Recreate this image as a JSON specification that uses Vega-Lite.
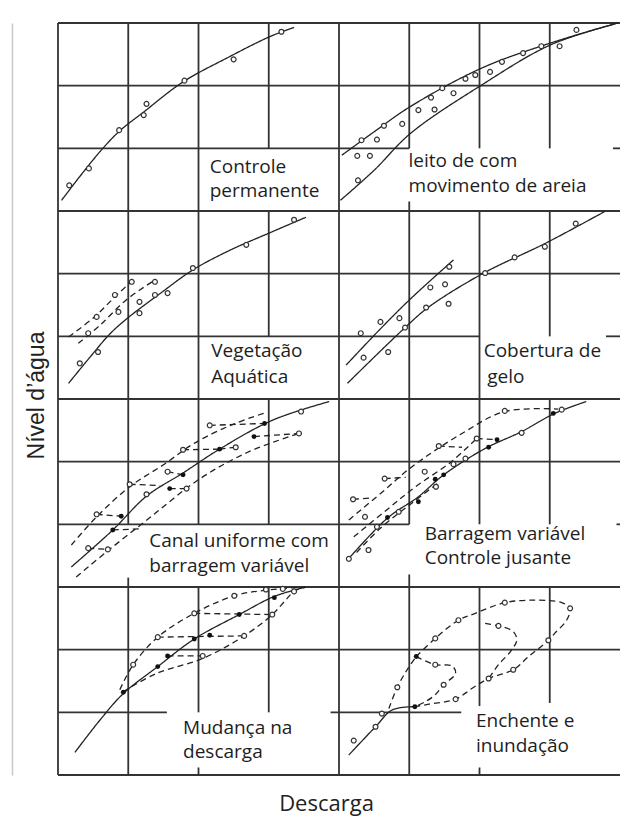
{
  "$schema": "https://vega.github.io/schema/vega-lite/v6.json",
  "width": 562,
  "height": 752,
  "autosize": {"type": "none"},
  "padding": {"left": 58, "top": 23, "right": 0, "bottom": 48},
  "background": "white",
  "config": {"view": {"stroke": null}},
  "datasets": {
    "grid": [
      {"x": 0, "x2": 0, "y": 0, "y2": 12},
      {"x": 1, "x2": 1, "y": 0, "y2": 3.15},
      {"x": 1, "x2": 1, "y": 4, "y2": 12},
      {"x": 2, "x2": 2, "y": 0, "y2": 0.12},
      {"x": 2, "x2": 2, "y": 1, "y2": 3},
      {"x": 2, "x2": 2, "y": 4, "y2": 12},
      {"x": 3, "x2": 3, "y": 1, "y2": 3},
      {"x": 3, "x2": 3, "y": 4, "y2": 6},
      {"x": 3, "x2": 3, "y": 7, "y2": 9},
      {"x": 3, "x2": 3, "y": 10, "y2": 12},
      {"x": 4, "x2": 4, "y": 0, "y2": 12},
      {"x": 5, "x2": 5, "y": 0, "y2": 3.2},
      {"x": 5, "x2": 5, "y": 4, "y2": 9.15},
      {"x": 5, "x2": 5, "y": 10, "y2": 12},
      {"x": 6, "x2": 6, "y": 0, "y2": 0.12},
      {"x": 6, "x2": 6, "y": 1.1, "y2": 3},
      {"x": 6, "x2": 6, "y": 4, "y2": 9},
      {"x": 6, "x2": 6, "y": 10, "y2": 12},
      {"x": 7, "x2": 7, "y": 1.15, "y2": 3},
      {"x": 7, "x2": 7, "y": 4, "y2": 6},
      {"x": 7, "x2": 7, "y": 7, "y2": 9},
      {"x": 7, "x2": 7, "y": 10, "y2": 12},
      {"x": 0, "x2": 8, "y": 12, "y2": 12},
      {"x": 0, "x2": 8, "y": 11, "y2": 11},
      {"x": 0, "x2": 5, "y": 10, "y2": 10},
      {"x": 7.9, "x2": 8, "y": 10, "y2": 10},
      {"x": 0, "x2": 8, "y": 9, "y2": 9},
      {"x": 0, "x2": 8, "y": 8, "y2": 8},
      {"x": 0, "x2": 6, "y": 7, "y2": 7},
      {"x": 7.8, "x2": 8, "y": 7, "y2": 7},
      {"x": 0, "x2": 8, "y": 6, "y2": 6},
      {"x": 0, "x2": 8, "y": 5, "y2": 5},
      {"x": 0, "x2": 5, "y": 4, "y2": 4},
      {"x": 7.95, "x2": 8, "y": 4, "y2": 4},
      {"x": 0, "x2": 8, "y": 3, "y2": 3},
      {"x": 0, "x2": 8, "y": 2, "y2": 2},
      {"x": 0, "x2": 1.55, "y": 1, "y2": 1},
      {"x": 3.88, "x2": 5.74, "y": 1, "y2": 1},
      {"x": 0, "x2": 8, "y": 0, "y2": 0}
    ],
    "curves": [
      {"id": "TL", "s": "solid", "o": 1, "x": 0.05, "y": 9.17},
      {"id": "TL", "s": "solid", "o": 2, "x": 0.31, "y": 9.55},
      {"id": "TL", "s": "solid", "o": 3, "x": 0.6, "y": 9.95},
      {"id": "TL", "s": "solid", "o": 4, "x": 0.87, "y": 10.27},
      {"id": "TL", "s": "solid", "o": 5, "x": 1.22, "y": 10.58},
      {"id": "TL", "s": "solid", "o": 6, "x": 1.78, "y": 11.06},
      {"id": "TL", "s": "solid", "o": 7, "x": 2.42, "y": 11.45},
      {"id": "TL", "s": "solid", "o": 8, "x": 3.01, "y": 11.78},
      {"id": "TL", "s": "solid", "o": 9, "x": 3.36, "y": 11.93},
      {"id": "TRu", "s": "solid", "o": 1, "x": 4.04, "y": 9.89},
      {"id": "TRu", "s": "solid", "o": 2, "x": 4.52, "y": 10.28},
      {"id": "TRu", "s": "solid", "o": 3, "x": 5.02, "y": 10.67},
      {"id": "TRu", "s": "solid", "o": 4, "x": 6.03, "y": 11.28},
      {"id": "TRu", "s": "solid", "o": 5, "x": 7.01, "y": 11.68},
      {"id": "TRu", "s": "solid", "o": 6, "x": 7.97, "y": 12.0},
      {"id": "TRl", "s": "solid", "o": 1, "x": 4.02, "y": 9.17},
      {"id": "TRl", "s": "solid", "o": 2, "x": 4.5, "y": 9.65},
      {"id": "TRl", "s": "solid", "o": 3, "x": 5.02, "y": 10.24},
      {"id": "TRl", "s": "solid", "o": 4, "x": 6.03, "y": 11.01},
      {"id": "TRl", "s": "solid", "o": 5, "x": 7.01, "y": 11.65},
      {"id": "TRl", "s": "solid", "o": 6, "x": 7.97, "y": 12.0},
      {"id": "ML", "s": "solid", "o": 1, "x": 0.15, "y": 6.25},
      {"id": "ML", "s": "solid", "o": 2, "x": 0.45, "y": 6.66},
      {"id": "ML", "s": "solid", "o": 3, "x": 0.74, "y": 7.04},
      {"id": "ML", "s": "solid", "o": 4, "x": 1.0, "y": 7.3},
      {"id": "ML", "s": "solid", "o": 5, "x": 1.45, "y": 7.68},
      {"id": "ML", "s": "solid", "o": 6, "x": 1.92, "y": 8.06},
      {"id": "ML", "s": "solid", "o": 7, "x": 2.44, "y": 8.37},
      {"id": "ML", "s": "solid", "o": 8, "x": 3.01, "y": 8.65},
      {"id": "ML", "s": "solid", "o": 9, "x": 3.53, "y": 8.9},
      {"id": "MLd1", "s": "dashed", "o": 1, "x": 0.15, "y": 6.99},
      {"id": "MLd1", "s": "dashed", "o": 2, "x": 0.52, "y": 7.31},
      {"id": "MLd1", "s": "dashed", "o": 3, "x": 0.81, "y": 7.63},
      {"id": "MLd1", "s": "dashed", "o": 4, "x": 1.05, "y": 7.88},
      {"id": "MLd2", "s": "dashed", "o": 1, "x": 0.29, "y": 6.89},
      {"id": "MLd2", "s": "dashed", "o": 2, "x": 0.6, "y": 7.18},
      {"id": "MLd2", "s": "dashed", "o": 3, "x": 0.97, "y": 7.58},
      {"id": "MLd2", "s": "dashed", "o": 4, "x": 1.38, "y": 7.9},
      {"id": "MRl", "s": "solid", "o": 1, "x": 4.12, "y": 6.25},
      {"id": "MRl", "s": "solid", "o": 2, "x": 4.95, "y": 7.15},
      {"id": "MRl", "s": "solid", "o": 3, "x": 5.28, "y": 7.47},
      {"id": "MRl", "s": "solid", "o": 4, "x": 6.06, "y": 8.01},
      {"id": "MRl", "s": "solid", "o": 5, "x": 6.93, "y": 8.48},
      {"id": "MRl", "s": "solid", "o": 6, "x": 7.78, "y": 8.99},
      {"id": "MRu", "s": "solid", "o": 1, "x": 4.1, "y": 6.54},
      {"id": "MRu", "s": "solid", "o": 2, "x": 4.59, "y": 7.12},
      {"id": "MRu", "s": "solid", "o": 3, "x": 5.02, "y": 7.6},
      {"id": "MRu", "s": "solid", "o": 4, "x": 5.63, "y": 8.22},
      {"id": "MBL", "s": "solid", "o": 1, "x": 0.19, "y": 3.32},
      {"id": "MBL", "s": "solid", "o": 2, "x": 0.78, "y": 3.91},
      {"id": "MBL", "s": "solid", "o": 3, "x": 1.26, "y": 4.45},
      {"id": "MBL", "s": "solid", "o": 4, "x": 1.78, "y": 4.82},
      {"id": "MBL", "s": "solid", "o": 5, "x": 2.3, "y": 5.2},
      {"id": "MBL", "s": "solid", "o": 6, "x": 3.05, "y": 5.66},
      {"id": "MBL", "s": "solid", "o": 7, "x": 3.86, "y": 5.96},
      {"id": "MBLu", "s": "dashed", "o": 1, "x": 0.19, "y": 3.67},
      {"id": "MBLu", "s": "dashed", "o": 2, "x": 0.55, "y": 4.12},
      {"id": "MBLu", "s": "dashed", "o": 3, "x": 1.02, "y": 4.6},
      {"id": "MBLu", "s": "dashed", "o": 4, "x": 1.5, "y": 4.95},
      {"id": "MBLu", "s": "dashed", "o": 5, "x": 1.95, "y": 5.3},
      {"id": "MBLu", "s": "dashed", "o": 6, "x": 2.5, "y": 5.6},
      {"id": "MBLu", "s": "dashed", "o": 7, "x": 2.95, "y": 5.78},
      {"id": "MBLl", "s": "dashed", "o": 1, "x": 0.26, "y": 3.16},
      {"id": "MBLl", "s": "dashed", "o": 2, "x": 0.69, "y": 3.56},
      {"id": "MBLl", "s": "dashed", "o": 3, "x": 1.3, "y": 4.1},
      {"id": "MBLl", "s": "dashed", "o": 4, "x": 2.01, "y": 4.72},
      {"id": "MBLl", "s": "dashed", "o": 5, "x": 2.7, "y": 5.15},
      {"id": "MBLl", "s": "dashed", "o": 6, "x": 3.43, "y": 5.45},
      {"id": "Mc1", "s": "dashed", "o": 1, "x": 0.55, "y": 4.16},
      {"id": "Mc1", "s": "dashed", "o": 2, "x": 0.9, "y": 4.13},
      {"id": "Mc2", "s": "dashed", "o": 1, "x": 0.43, "y": 3.62},
      {"id": "Mc2", "s": "dashed", "o": 2, "x": 0.71, "y": 3.6},
      {"id": "Mc3", "s": "dashed", "o": 1, "x": 1.02, "y": 4.64},
      {"id": "Mc3", "s": "dashed", "o": 2, "x": 1.45, "y": 4.62},
      {"id": "Mc4", "s": "dashed", "o": 1, "x": 1.56, "y": 4.84},
      {"id": "Mc4", "s": "dashed", "o": 2, "x": 1.78, "y": 4.79},
      {"id": "Mc5", "s": "dashed", "o": 1, "x": 1.59, "y": 4.57},
      {"id": "Mc5", "s": "dashed", "o": 2, "x": 1.83, "y": 4.57},
      {"id": "Mc6", "s": "dashed", "o": 1, "x": 1.78, "y": 5.19},
      {"id": "Mc6", "s": "dashed", "o": 2, "x": 2.3, "y": 5.2},
      {"id": "Mc7", "s": "dashed", "o": 1, "x": 2.16, "y": 5.58},
      {"id": "Mc7", "s": "dashed", "o": 2, "x": 2.94, "y": 5.61},
      {"id": "Mc8", "s": "dashed", "o": 1, "x": 2.3, "y": 5.2},
      {"id": "Mc8", "s": "dashed", "o": 2, "x": 2.53, "y": 5.23},
      {"id": "Mc9", "s": "dashed", "o": 1, "x": 2.79, "y": 5.4},
      {"id": "Mc9", "s": "dashed", "o": 2, "x": 3.43, "y": 5.45},
      {"id": "Mc10", "s": "dashed", "o": 1, "x": 0.78, "y": 3.91},
      {"id": "Mc10", "s": "dashed", "o": 2, "x": 1.2, "y": 3.93},
      {"id": "MBR", "s": "solid", "o": 1, "x": 4.12, "y": 3.43},
      {"id": "MBR", "s": "solid", "o": 2, "x": 4.69, "y": 4.1},
      {"id": "MBR", "s": "solid", "o": 3, "x": 5.13, "y": 4.44},
      {"id": "MBR", "s": "solid", "o": 4, "x": 5.49, "y": 4.79},
      {"id": "MBR", "s": "solid", "o": 5, "x": 6.08, "y": 5.21},
      {"id": "MBR", "s": "solid", "o": 6, "x": 6.6, "y": 5.48},
      {"id": "MBR", "s": "solid", "o": 7, "x": 7.07, "y": 5.77},
      {"id": "MBR", "s": "solid", "o": 8, "x": 7.52, "y": 5.96},
      {"id": "MBRu", "s": "dashed", "o": 1, "x": 4.14, "y": 4.07},
      {"id": "MBRu", "s": "dashed", "o": 2, "x": 4.6, "y": 4.5},
      {"id": "MBRu", "s": "dashed", "o": 3, "x": 5.04, "y": 4.92},
      {"id": "MBRu", "s": "dashed", "o": 4, "x": 5.75, "y": 5.45},
      {"id": "MBRu", "s": "dashed", "o": 5, "x": 6.36, "y": 5.8},
      {"id": "MBRu", "s": "dashed", "o": 6, "x": 7.12, "y": 5.84},
      {"id": "MBRm", "s": "dashed", "o": 1, "x": 4.21, "y": 3.8},
      {"id": "MBRm", "s": "dashed", "o": 2, "x": 4.7, "y": 4.25},
      {"id": "MBRm", "s": "dashed", "o": 3, "x": 5.09, "y": 4.6},
      {"id": "MBRm", "s": "dashed", "o": 4, "x": 5.6, "y": 5.0},
      {"id": "MBRm", "s": "dashed", "o": 5, "x": 5.96, "y": 5.37},
      {"id": "MBRl", "s": "dashed", "o": 1, "x": 4.25, "y": 3.55},
      {"id": "MBRl", "s": "dashed", "o": 2, "x": 4.6, "y": 3.95},
      {"id": "MBRl", "s": "dashed", "o": 3, "x": 5.05, "y": 4.35},
      {"id": "MBRl", "s": "dashed", "o": 4, "x": 5.4, "y": 4.65},
      {"id": "Nc1", "s": "dashed", "o": 1, "x": 4.65, "y": 4.73},
      {"id": "Nc1", "s": "dashed", "o": 2, "x": 4.95, "y": 4.75},
      {"id": "Nc2", "s": "dashed", "o": 1, "x": 5.42, "y": 5.25},
      {"id": "Nc2", "s": "dashed", "o": 2, "x": 5.75, "y": 5.23},
      {"id": "Nc3", "s": "dashed", "o": 1, "x": 5.96, "y": 5.37},
      {"id": "Nc3", "s": "dashed", "o": 2, "x": 6.25, "y": 5.35},
      {"id": "Nc4", "s": "dashed", "o": 1, "x": 4.2, "y": 4.4},
      {"id": "Nc4", "s": "dashed", "o": 2, "x": 4.45, "y": 4.42},
      {"id": "BL", "s": "solid", "o": 1, "x": 0.24, "y": 0.36},
      {"id": "BL", "s": "solid", "o": 2, "x": 0.6, "y": 0.88},
      {"id": "BL", "s": "solid", "o": 3, "x": 0.93, "y": 1.3},
      {"id": "BL", "s": "solid", "o": 4, "x": 1.42, "y": 1.73},
      {"id": "BL", "s": "solid", "o": 5, "x": 1.94, "y": 2.17},
      {"id": "BL", "s": "solid", "o": 6, "x": 2.58, "y": 2.56},
      {"id": "BL", "s": "solid", "o": 7, "x": 3.08, "y": 2.85},
      {"id": "BL", "s": "solid", "o": 8, "x": 3.53, "y": 3.0},
      {"id": "BLu", "s": "dashed", "o": 1, "x": 0.88, "y": 1.36},
      {"id": "BLu", "s": "dashed", "o": 2, "x": 1.07, "y": 1.76},
      {"id": "BLu", "s": "dashed", "o": 3, "x": 1.42, "y": 2.2},
      {"id": "BLu", "s": "dashed", "o": 4, "x": 1.94, "y": 2.58},
      {"id": "BLu", "s": "dashed", "o": 5, "x": 2.51, "y": 2.86},
      {"id": "BLu", "s": "dashed", "o": 6, "x": 2.96, "y": 2.95},
      {"id": "BLu", "s": "dashed", "o": 7, "x": 3.53, "y": 3.0},
      {"id": "BLl", "s": "dashed", "o": 1, "x": 0.93, "y": 1.33},
      {"id": "BLl", "s": "dashed", "o": 2, "x": 1.4, "y": 1.62},
      {"id": "BLl", "s": "dashed", "o": 3, "x": 2.06, "y": 1.86},
      {"id": "BLl", "s": "dashed", "o": 4, "x": 2.65, "y": 2.22},
      {"id": "BLl", "s": "dashed", "o": 5, "x": 3.05, "y": 2.56},
      {"id": "BLl", "s": "dashed", "o": 6, "x": 3.24, "y": 2.79},
      {"id": "BLl", "s": "dashed", "o": 7, "x": 3.36, "y": 2.93},
      {"id": "BLl", "s": "dashed", "o": 8, "x": 3.53, "y": 3.0},
      {"id": "Bc1", "s": "dashed", "o": 1, "x": 1.42, "y": 2.2},
      {"id": "Bc1", "s": "dashed", "o": 2, "x": 2.65, "y": 2.22},
      {"id": "Bc2", "s": "dashed", "o": 1, "x": 1.94, "y": 2.58},
      {"id": "Bc2", "s": "dashed", "o": 2, "x": 3.05, "y": 2.56},
      {"id": "Bc3", "s": "dashed", "o": 1, "x": 1.56, "y": 1.9},
      {"id": "Bc3", "s": "dashed", "o": 2, "x": 2.06, "y": 1.9},
      {"id": "BR", "s": "solid", "o": 1, "x": 4.14, "y": 0.32},
      {"id": "BR", "s": "solid", "o": 2, "x": 4.52, "y": 0.77},
      {"id": "BR", "s": "solid", "o": 3, "x": 4.76, "y": 1.04},
      {"id": "BR", "s": "solid", "o": 4, "x": 5.08, "y": 1.09},
      {"id": "BRb", "s": "dashed", "o": 1, "x": 5.1, "y": 1.89},
      {"id": "BRb", "s": "dashed", "o": 2, "x": 5.37, "y": 2.18},
      {"id": "BRb", "s": "dashed", "o": 3, "x": 5.7, "y": 2.47},
      {"id": "BRb", "s": "dashed", "o": 4, "x": 5.94, "y": 2.58},
      {"id": "BRb", "s": "dashed", "o": 5, "x": 6.36, "y": 2.75},
      {"id": "BRb", "s": "dashed", "o": 6, "x": 6.79, "y": 2.79},
      {"id": "BRb", "s": "dashed", "o": 7, "x": 7.17, "y": 2.75},
      {"id": "BRb", "s": "dashed", "o": 8, "x": 7.29, "y": 2.66},
      {"id": "BRb", "s": "dashed", "o": 9, "x": 7.24, "y": 2.47},
      {"id": "BRb", "s": "dashed", "o": 10, "x": 7.07, "y": 2.26},
      {"id": "BRb", "s": "dashed", "o": 11, "x": 6.98, "y": 2.15},
      {"id": "BRb", "s": "dashed", "o": 12, "x": 6.7, "y": 1.89},
      {"id": "BRb", "s": "dashed", "o": 13, "x": 6.48, "y": 1.68},
      {"id": "BRb", "s": "dashed", "o": 14, "x": 6.13, "y": 1.54},
      {"id": "BRb", "s": "dashed", "o": 15, "x": 5.89, "y": 1.38},
      {"id": "BRb", "s": "dashed", "o": 16, "x": 5.66, "y": 1.21},
      {"id": "BRb", "s": "dashed", "o": 17, "x": 5.28, "y": 1.13},
      {"id": "BRb", "s": "dashed", "o": 18, "x": 5.08, "y": 1.09},
      {"id": "BRm", "s": "dashed", "o": 1, "x": 6.08, "y": 2.42},
      {"id": "BRm", "s": "dashed", "o": 2, "x": 6.27, "y": 2.38},
      {"id": "BRm", "s": "dashed", "o": 3, "x": 6.48, "y": 2.29},
      {"id": "BRm", "s": "dashed", "o": 4, "x": 6.53, "y": 2.15},
      {"id": "BRm", "s": "dashed", "o": 5, "x": 6.44, "y": 1.97},
      {"id": "BRm", "s": "dashed", "o": 6, "x": 6.27, "y": 1.76},
      {"id": "BRm", "s": "dashed", "o": 7, "x": 6.13, "y": 1.54},
      {"id": "BRs", "s": "dashed", "o": 1, "x": 5.1, "y": 1.89},
      {"id": "BRs", "s": "dashed", "o": 2, "x": 5.37, "y": 1.76},
      {"id": "BRs", "s": "dashed", "o": 3, "x": 5.61, "y": 1.74},
      {"id": "BRs", "s": "dashed", "o": 4, "x": 5.66, "y": 1.62},
      {"id": "BRs", "s": "dashed", "o": 5, "x": 5.49, "y": 1.44},
      {"id": "BRs", "s": "dashed", "o": 6, "x": 5.37, "y": 1.28},
      {"id": "BRs", "s": "dashed", "o": 7, "x": 5.23, "y": 1.17},
      {"id": "BRs", "s": "dashed", "o": 8, "x": 5.08, "y": 1.09},
      {"id": "BRr", "s": "dashed", "o": 1, "x": 4.71, "y": 1.06},
      {"id": "BRr", "s": "dashed", "o": 2, "x": 4.83, "y": 1.4},
      {"id": "BRr", "s": "dashed", "o": 3, "x": 4.97, "y": 1.68},
      {"id": "BRr", "s": "dashed", "o": 4, "x": 5.1, "y": 1.89}
    ],
    "open": [
      {"x": 0.16, "y": 9.41}, {"x": 0.44, "y": 9.68}, {"x": 0.87, "y": 10.29}, {"x": 1.22, "y": 10.53}, {"x": 1.26, "y": 10.71}, {"x": 1.8, "y": 11.08}, {"x": 2.5, "y": 11.42}, {"x": 3.18, "y": 11.86},
      {"x": 4.27, "y": 9.49}, {"x": 4.26, "y": 9.88}, {"x": 4.44, "y": 9.88}, {"x": 4.32, "y": 10.13}, {"x": 4.54, "y": 10.14}, {"x": 4.64, "y": 10.36}, {"x": 4.9, "y": 10.39}, {"x": 5.13, "y": 10.61}, {"x": 5.31, "y": 10.81}, {"x": 5.36, "y": 10.62}, {"x": 5.47, "y": 10.96}, {"x": 5.63, "y": 10.88}, {"x": 5.8, "y": 11.11}, {"x": 5.94, "y": 11.17}, {"x": 6.15, "y": 11.22}, {"x": 6.32, "y": 11.38}, {"x": 6.62, "y": 11.52}, {"x": 6.88, "y": 11.63}, {"x": 7.14, "y": 11.63}, {"x": 7.38, "y": 11.89},
      {"x": 0.31, "y": 6.57}, {"x": 0.57, "y": 6.75}, {"x": 0.43, "y": 7.05}, {"x": 0.55, "y": 7.31}, {"x": 0.81, "y": 7.66}, {"x": 0.86, "y": 7.39}, {"x": 1.05, "y": 7.87}, {"x": 1.16, "y": 7.55}, {"x": 1.16, "y": 7.37}, {"x": 1.38, "y": 7.66}, {"x": 1.38, "y": 7.87}, {"x": 1.56, "y": 7.69}, {"x": 1.92, "y": 8.09}, {"x": 2.68, "y": 8.46}, {"x": 3.36, "y": 8.86},
      {"x": 4.31, "y": 7.05}, {"x": 4.35, "y": 6.66}, {"x": 4.7, "y": 6.75}, {"x": 4.59, "y": 7.23}, {"x": 4.86, "y": 7.29}, {"x": 4.94, "y": 7.14}, {"x": 5.24, "y": 7.46}, {"x": 5.3, "y": 7.78}, {"x": 5.51, "y": 7.83}, {"x": 5.56, "y": 7.52}, {"x": 5.57, "y": 8.11}, {"x": 6.08, "y": 8.01}, {"x": 6.5, "y": 8.26}, {"x": 6.93, "y": 8.43}, {"x": 7.37, "y": 8.8},
      {"x": 0.55, "y": 4.16}, {"x": 0.43, "y": 3.62}, {"x": 0.71, "y": 3.6}, {"x": 1.02, "y": 4.64}, {"x": 1.26, "y": 4.48}, {"x": 1.56, "y": 4.84}, {"x": 1.78, "y": 5.19}, {"x": 1.83, "y": 4.57}, {"x": 2.16, "y": 5.58}, {"x": 2.53, "y": 5.23}, {"x": 3.43, "y": 5.45}, {"x": 3.46, "y": 5.8},
      {"x": 4.2, "y": 4.4}, {"x": 4.65, "y": 4.73}, {"x": 4.37, "y": 4.12}, {"x": 5.42, "y": 5.25}, {"x": 5.96, "y": 5.37}, {"x": 6.36, "y": 5.81}, {"x": 7.17, "y": 5.83}, {"x": 6.6, "y": 5.46}, {"x": 5.8, "y": 5.05}, {"x": 5.63, "y": 4.96}, {"x": 5.22, "y": 4.84}, {"x": 5.38, "y": 4.6}, {"x": 4.85, "y": 4.2}, {"x": 4.54, "y": 3.96}, {"x": 4.42, "y": 3.59}, {"x": 4.14, "y": 3.45},
      {"x": 1.07, "y": 1.76}, {"x": 1.42, "y": 2.2}, {"x": 1.94, "y": 2.58}, {"x": 2.51, "y": 2.86}, {"x": 2.96, "y": 2.96}, {"x": 2.06, "y": 1.9}, {"x": 2.65, "y": 2.22}, {"x": 3.05, "y": 2.56}, {"x": 3.36, "y": 2.93}, {"x": 3.2, "y": 2.97},
      {"x": 4.21, "y": 0.55}, {"x": 4.52, "y": 0.77}, {"x": 4.61, "y": 0.98}, {"x": 4.83, "y": 1.4}, {"x": 5.37, "y": 2.18}, {"x": 5.7, "y": 2.47}, {"x": 6.36, "y": 2.75}, {"x": 7.29, "y": 2.66}, {"x": 6.98, "y": 2.15}, {"x": 6.48, "y": 1.68}, {"x": 6.13, "y": 1.54}, {"x": 5.66, "y": 1.21}, {"x": 6.27, "y": 2.38}, {"x": 5.37, "y": 1.76}, {"x": 5.49, "y": 1.44}
    ],
    "filled": [
      {"x": 0.78, "y": 3.91}, {"x": 0.9, "y": 4.13}, {"x": 1.59, "y": 4.57}, {"x": 1.78, "y": 4.79}, {"x": 2.3, "y": 5.2}, {"x": 2.79, "y": 5.4}, {"x": 2.94, "y": 5.61},
      {"x": 4.69, "y": 4.11}, {"x": 5.13, "y": 4.36}, {"x": 5.37, "y": 4.72}, {"x": 5.49, "y": 4.79}, {"x": 6.13, "y": 5.23}, {"x": 6.25, "y": 5.35}, {"x": 7.05, "y": 5.77},
      {"x": 0.93, "y": 1.32}, {"x": 1.42, "y": 1.73}, {"x": 1.56, "y": 1.9}, {"x": 1.94, "y": 2.17}, {"x": 2.16, "y": 2.23}, {"x": 2.58, "y": 2.56}, {"x": 3.08, "y": 2.83},
      {"x": 5.08, "y": 1.09}, {"x": 5.1, "y": 1.89}
    ],
    "labels": [
      {"t": "Controle", "x": 2.16, "y": 9.61},
      {"t": "permanente", "x": 2.16, "y": 9.22},
      {"t": "leito de com", "x": 4.99, "y": 9.71},
      {"t": "movimento de areia", "x": 4.99, "y": 9.3},
      {"t": "Vegetação", "x": 2.18, "y": 6.67},
      {"t": "Aquática", "x": 2.18, "y": 6.25},
      {"t": "Cobertura de", "x": 6.06, "y": 6.67},
      {"t": "gelo", "x": 6.11, "y": 6.26},
      {"t": "Canal uniforme com", "x": 1.3, "y": 3.64},
      {"t": "barragem variável", "x": 1.3, "y": 3.24},
      {"t": "Barragem variável", "x": 5.22, "y": 3.75},
      {"t": "Controle jusante", "x": 5.22, "y": 3.37},
      {"t": "Mudança na", "x": 1.78, "y": 0.65},
      {"t": "descarga", "x": 1.78, "y": 0.27},
      {"t": "Enchente e", "x": 5.95, "y": 0.77},
      {"t": "inundação", "x": 5.95, "y": 0.37}
    ]
  },
  "layer": [
    {
      "data": {"name": "grid"},
      "mark": {"type": "rule", "color": "#333333", "strokeWidth": 1.8},
      "encoding": {
        "x": {"field": "x", "type": "quantitative", "scale": {"domain": [0, 8], "nice": false, "zero": false},
              "axis": {"orient": "bottom", "domain": false, "ticks": false, "labels": false, "grid": false,
                       "title": "Descarga", "titleFont": "Open Sans", "titleFontSize": 22, "titleFontWeight": "normal",
                       "titleColor": "#222222", "titleX": 268, "titleY": 35, "titleBaseline": "alphabetic", "titleAlign": "center"}},
        "x2": {"field": "x2"},
        "y": {"field": "y", "type": "quantitative", "scale": {"domain": [0, 12], "nice": false, "zero": false},
              "axis": {"orient": "left", "offset": 46, "domain": true, "domainColor": "#c8c8c8", "domainWidth": 1.5,
                       "ticks": false, "labels": false, "grid": false,
                       "title": "Nível d’água", "titleFont": "Liberation Sans", "titleFontSize": 23, "titleFontWeight": "normal",
                       "titleColor": "#222222", "titleX": 31, "titleY": 372, "titleBaseline": "alphabetic", "titleAlign": "center", "titleAngle": 270}},
        "y2": {"field": "y2"}
      }
    },
    {
      "data": {"name": "curves"},
      "mark": {"type": "line", "color": "#222222", "strokeWidth": 1.3, "interpolate": "catmull-rom"},
      "encoding": {
        "x": {"field": "x", "type": "quantitative"},
        "y": {"field": "y", "type": "quantitative"},
        "detail": {"field": "id"},
        "order": {"field": "o", "type": "quantitative"},
        "strokeDash": {"field": "s", "type": "nominal", "scale": {"domain": ["solid", "dashed"], "range": [[1, 0], [6, 4]]}, "legend": null}
      }
    },
    {
      "data": {"name": "open"},
      "mark": {"type": "point", "shape": "circle", "size": 24, "filled": false, "fill": "white", "fillOpacity": 1, "stroke": "#333333", "strokeWidth": 1.2},
      "encoding": {
        "x": {"field": "x", "type": "quantitative"},
        "y": {"field": "y", "type": "quantitative"}
      }
    },
    {
      "data": {"name": "filled"},
      "mark": {"type": "point", "shape": "circle", "size": 24, "filled": true, "color": "#111111", "opacity": 1},
      "encoding": {
        "x": {"field": "x", "type": "quantitative"},
        "y": {"field": "y", "type": "quantitative"}
      }
    },
    {
      "data": {"name": "labels"},
      "mark": {"type": "text", "font": "Open Sans", "fontSize": 19, "color": "#1e1e1e", "align": "left", "baseline": "alphabetic"},
      "encoding": {
        "x": {"field": "x", "type": "quantitative"},
        "y": {"field": "y", "type": "quantitative"},
        "text": {"field": "t"}
      }
    }
  ]
}
